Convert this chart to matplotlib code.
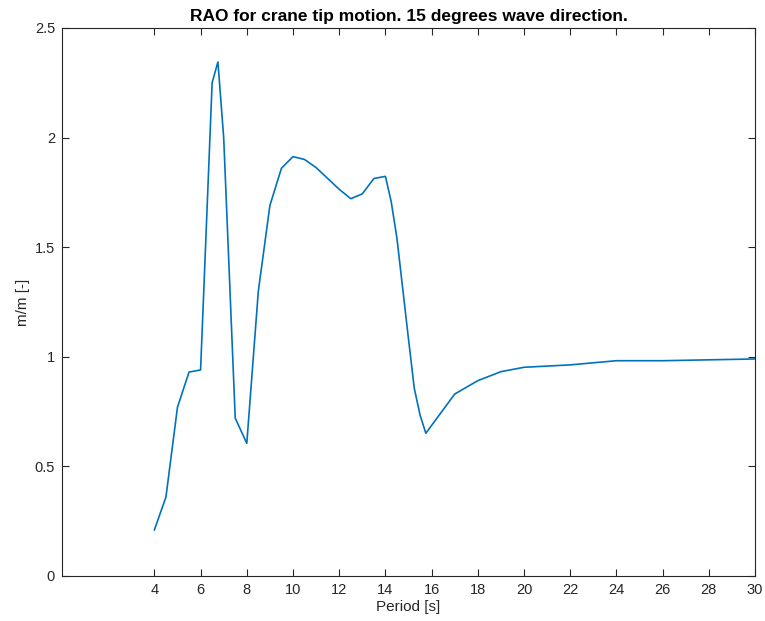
import numpy as np
import matplotlib
matplotlib.use("Agg")
import matplotlib.pyplot as plt

plt.rcParams['font.family'] = ['Liberation Sans', 'DejaVu Sans']

# RAO of crane tip, 15 deg wave heading
period = [4, 4.5, 5, 5.5, 6, 6.5, 6.75, 7, 7.5, 8, 8.5, 9, 9.5, 10, 10.5, 11,
          12, 12.5, 13, 13.5, 14, 14.25, 14.5, 15, 15.25, 15.5, 15.75,
          17, 18, 19, 20, 22, 24, 26, 28, 30]
rao = [0.21, 0.36, 0.77, 0.93, 0.94, 2.25, 2.345, 2.0, 0.72, 0.605, 1.30, 1.69,
       1.86, 1.913, 1.90, 1.863, 1.764, 1.721, 1.743, 1.813, 1.823, 1.708,
       1.54, 1.08, 0.856, 0.734, 0.651, 0.83, 0.891, 0.932, 0.952, 0.963,
       0.982, 0.982, 0.986, 0.99]
xticks = [4, 6, 8, 10, 12, 14, 16, 18, 20, 22, 24, 26, 28, 30]
yticks = [0, 0.5, 1, 1.5, 2, 2.5]
yticklabels = ['0', '0.5', '1', '1.5', '2', '2.5']

fig = plt.figure(figsize=(7.65, 6.21), dpi=100)
ax = fig.add_axes([0.081, 0.0725, 0.906, 0.8825])
ax.plot(period, rao, color='#0072BD', linewidth=1.2)

ax.set_xlim(0, 30)
ax.set_ylim(0, 2.5)
ax.set_xticks(xticks)
ax.set_yticks(yticks)
ax.set_yticklabels(yticklabels)
ax.tick_params(direction='in', top=True, right=True, length=5, width=0.8,
               labelsize=10.5, colors='#262626', pad=5)
for side in ax.spines.values():
    side.set_color('#262626')
    side.set_linewidth(0.8)

ax.set_xlabel('Period [s]', fontsize=11, color='#262626', labelpad=2)
ax.set_ylabel('m/m [-]', fontsize=11, color='#262626', labelpad=3)
ax.set_title('RAO for crane tip motion. 15 degrees wave direction.',
             fontsize=12.5, fontweight='bold', pad=5)

fig.savefig('out.png', dpi=100)
